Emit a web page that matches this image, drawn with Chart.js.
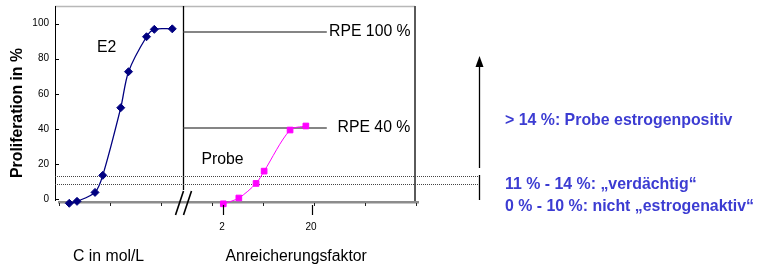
<!DOCTYPE html>
<html><head><meta charset="utf-8">
<script src="https://cdn.jsdelivr.net/npm/chart.js@4.4.1/dist/chart.umd.min.js"></script>
<style>html,body{margin:0;padding:0;background:#fff}#wrap{width:758px;height:266px;position:relative}</style>
</head><body><div id="wrap"><canvas id="c" width="758" height="266"></canvas></div>
<script>
// ---- data ----
const E2_CONC = [1e-12, 2e-12, 1e-11, 2e-11, 1e-10, 2e-10, 1e-9, 2e-9, 1e-8];   // mol/L
const E2_PROLIF = [-2.3, -1.2, 3.9, 13.6, 52.1, 72.6, 92.5, 96.7, 97.0];       // %
const PROBE_FACTOR = [2, 3, 4.7, 5.8, 11.4, 17.2];                            // Anreicherungsfaktor
const PROBE_PROLIF = [-2.6, 0.7, 9.0, 16.0, 39.4, 41.7];                       // %
const Y_TICKS = [0, 20, 40, 60, 80, 100];
const X_TICK_FACTORS = [2, 20];
const RPE_LEVELS = [95.2, 40.5];
const RPE_LABELS = ['RPE 100 %', 'RPE 40 %'];
const THRESHOLDS = [13.4, 8.7];
const CLASS_TEXTS = ['> 14 %: Probe estrogenpositiv', '11 % - 14 %: \u201Everd\u00E4chtig\u201C', '0 % - 10 %: nicht \u201Eestrogenaktiv\u201C'];
const SERIES_LABELS = ['E2', 'Probe'];
const AXIS_TITLES = ['Proliferation in %', 'C in mol/L', 'Anreicherungsfaktor'];

// ---- mapping of the two broken x segments onto one shared axis ----
const e2Pos = c => 0.2 + (Math.log10(c) + 12) * 0.505;
const probePos = f => 3.22 + Math.log10(f / 2) * 1.733;
const MINOR_TICKS = [0, 1, 2, 3, 4, 5, 6, 7];
const DIVIDER_POS = 2.44, RPE_END_POS = 5.25;

const FONT = "'Liberation Sans', Arial, Helvetica, sans-serif";
const BLUE = '#3c3cd2';

function seg(ctx, x1, y1, x2, y2, color, w, dash) {
  ctx.beginPath();
  ctx.strokeStyle = color; ctx.lineWidth = w;
  ctx.setLineDash(dash || []);
  ctx.moveTo(x1, y1); ctx.lineTo(x2, y2); ctx.stroke();
  ctx.setLineDash([]);
}
function txt(ctx, s, x, y, font, color, align) {
  ctx.font = font; ctx.fillStyle = color; ctx.textAlign = align || 'left'; ctx.textBaseline = 'middle';
  ctx.fillText(s, x, y);
}

const overlay = {
  id: 'overlay',
  beforeDatasetsDraw(chart) {
    const { ctx, chartArea: a, scales: { x, y } } = chart;
    ctx.save();
    // frame
    seg(ctx, a.left, 6.5, a.right, 6.5, '#b8b8b8', 1.5);
    seg(ctx, a.left + 0.5, 6, a.left + 0.5, 201, '#000', 1);
    seg(ctx, a.right, 6, a.right, 203, '#5a5a5a', 2);
    seg(ctx, a.left + 3, 202.2, a.right + 4, 202.2, '#8c8c8c', 2.5);
    // divider
    const xd = x.getPixelForValue(DIVIDER_POS);
    seg(ctx, xd, 6, xd, 190, '#000', 1.3);
    // RPE reference lines
    const xe = x.getPixelForValue(RPE_END_POS);
    RPE_LEVELS.forEach(v => { const yy = y.getPixelForValue(v); seg(ctx, xd, yy, xe, yy, '#5c5c5c', 1.5); });
    // threshold dotted lines
    THRESHOLDS.forEach(v => { const yy = Math.round(y.getPixelForValue(v)) + 0.5; seg(ctx, a.left, yy, 480, yy, '#444', 1, [1, 1]); });
    // y ticks (inward)
    Y_TICKS.forEach(v => { const yy = Math.round(y.getPixelForValue(v)) + 0.5; seg(ctx, a.left, yy, a.left + 4, yy, '#000', 1); });
    // x minor ticks
    MINOR_TICKS.forEach(v => { const xx = Math.round(x.getPixelForValue(v)) + 0.5; seg(ctx, xx, 203, xx, 206, '#222', 1); });
    ctx.restore();
  },
  afterDatasetsDraw(chart) {
    const { ctx, chartArea: a, scales: { x, y } } = chart;
    ctx.save();
    // break marks
    seg(ctx, 175.5, 215, 183.5, 191, '#000', 1.6);
    seg(ctx, 183.5, 215, 191.5, 191, '#000', 1.6);
    // x labelled ticks
    X_TICK_FACTORS.forEach(f => {
      const xx = Math.round(x.getPixelForValue(probePos(f))) + 0.5;
      seg(ctx, xx, 205, xx, 215, '#000', 1.2);
      txt(ctx, String(f), xx - 1.5, 227.5, `10px ${FONT}`, '#000', 'center');
    });
    // y tick labels
    Y_TICKS.forEach(v => txt(ctx, String(v), a.left - 6, y.getPixelForValue(v), `10px ${FONT}`, '#000', 'right'));
    // axis titles
    ctx.save();
    ctx.translate(18, 113); ctx.rotate(-Math.PI / 2);
    txt(ctx, AXIS_TITLES[0], 0, 0, `bold 15.8px ${FONT}`, '#000', 'center');
    ctx.restore();
    txt(ctx, AXIS_TITLES[1], 73, 256.5, `15.8px ${FONT}`, '#000');
    txt(ctx, AXIS_TITLES[2], 225.5, 256.5, `15.8px ${FONT}`, '#000');
    // series labels
    txt(ctx, SERIES_LABELS[0], 97, 47.5, `15.8px ${FONT}`, '#000');
    txt(ctx, SERIES_LABELS[1], 201.5, 160, `15.8px ${FONT}`, '#000');
    // RPE labels
    txt(ctx, RPE_LABELS[0], 329, y.getPixelForValue(RPE_LEVELS[0]), `15.8px ${FONT}`, '#000');
    txt(ctx, RPE_LABELS[1], 337.5, y.getPixelForValue(RPE_LEVELS[1]), `15.8px ${FONT}`, '#000');
    // arrow
    seg(ctx, 479.5, 168, 479.5, 64, '#000', 1.3);
    ctx.beginPath(); ctx.fillStyle = '#000';
    ctx.moveTo(479.5, 56); ctx.lineTo(483.5, 67); ctx.lineTo(475.5, 67); ctx.closePath(); ctx.fill();
    seg(ctx, 479.5, 175, 479.5, 200, '#000', 1.3);
    // classification texts
    txt(ctx, CLASS_TEXTS[0], 505, 121, `bold 15.9px ${FONT}`, BLUE);
    txt(ctx, CLASS_TEXTS[1], 505, 185, `bold 15.9px ${FONT}`, BLUE);
    txt(ctx, CLASS_TEXTS[2], 505, 207, `bold 15.9px ${FONT}`, BLUE);
    ctx.restore();
  }
};

new Chart(document.getElementById('c'), {
  type: 'scatter',
  data: {
    datasets: [
      {
        label: SERIES_LABELS[0],
        data: E2_CONC.map((c, i) => ({ x: e2Pos(c), y: E2_PROLIF[i] })),
        showLine: true, borderColor: '#000080', backgroundColor: '#000080', borderWidth: 1.3,
        pointStyle: 'rectRot', pointRadius: 4, pointBorderWidth: 1, tension: 0.3, clip: false
      },
      {
        label: SERIES_LABELS[1],
        data: PROBE_FACTOR.map((f, i) => ({ x: probePos(f), y: PROBE_PROLIF[i] })),
        showLine: true, borderColor: '#ff00ff', backgroundColor: '#ff00ff', borderWidth: 1,
        pointStyle: 'rect', pointRadius: 4, pointBorderWidth: 1, tension: 0.3, clip: false
      }
    ]
  },
  options: {
    responsive: false, animation: false, devicePixelRatio: 1,
    layout: { padding: { left: 55, top: 6, right: 758 - 415, bottom: 266 - 201 } },
    scales: {
      x: { type: 'linear', display: false, min: -0.08, max: 6.98 },
      y: { type: 'linear', display: false, min: -1, max: 110 }
    },
    plugins: { legend: { display: false }, tooltip: { enabled: false } }
  },
  plugins: [overlay]
});
</script>
</body></html>
